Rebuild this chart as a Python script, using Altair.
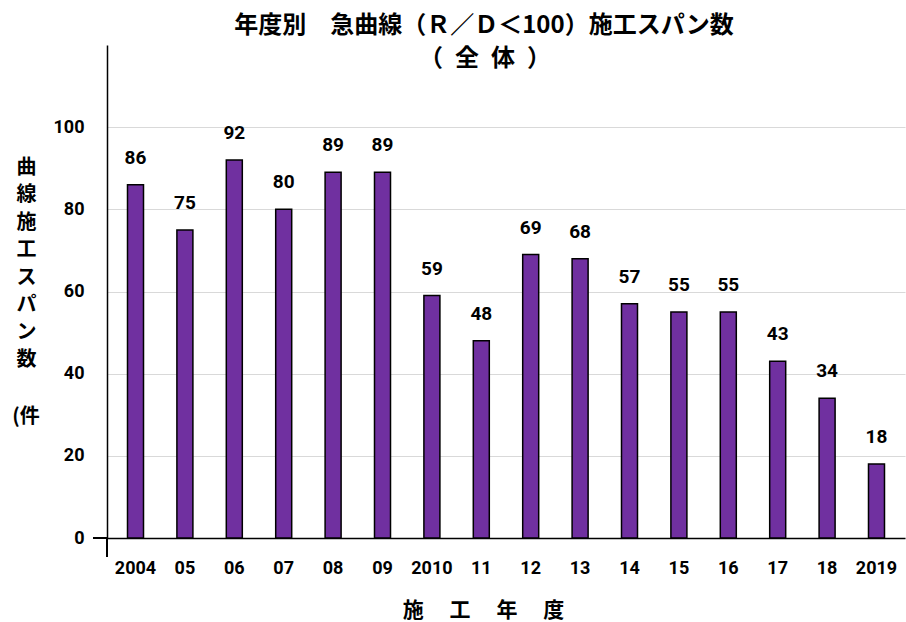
import altair as alt
import pandas as pd

years = ["2004", "05", "06", "07", "08", "09", "2010", "11", "12", "13",
         "14", "15", "16", "17", "18", "2019"]
counts = [86, 75, 92, 80, 89, 89, 59, 48, 69, 68, 57, 55, 55, 43, 34, 18]
y_ticks = [0, 20, 40, 60, 80, 100]
title_lines = ["年度別　急曲線（Ｒ／Ｄ＜100）施工スパン数", "（\u2002全\u2002体\u2002）"]
y_title = ["曲", "線", "施", "工", "ス", "パ", "ン", "数"]
y_unit = "(件"
x_title = "施　 工　 年　 度"

df = pd.DataFrame({"year": years, "count": counts})

NUM_FONT = "Roboto, sans-serif"
CJK_FONT = "Noto Sans CJK JP, sans-serif"

x_enc = alt.X(
    "year:N", sort=years,
    scale=alt.Scale(paddingInner=0.676, paddingOuter=0.415),
    axis=alt.Axis(
        title=x_title, titleFont=CJK_FONT, titleFontSize=21,
        titleFontWeight="bold", titleColor="black",
        titleX=376, titleY=72, titleBaseline="middle", titleAnchor="start",
        titleAlign="center",
        labelAngle=0, labelFont=NUM_FONT, labelFontSize=18, labelFontWeight="bold",
        labelColor="black", labelPadding=21, ticks=False,
        domainColor="black", domainWidth=1.5, grid=False,
    ),
)

y_enc = alt.Y(
    "count:Q",
    scale=alt.Scale(domain=[0, 120], nice=False),
    axis=alt.Axis(
        values=y_ticks, title=y_title,
        titleAngle=0, titleFont=CJK_FONT, titleFontSize=20, titleFontWeight="bold",
        titleColor="black", titleLineHeight=27.5, titleX=-81, titleY=122,
        titleAlign="center", titleBaseline="middle",
        labelFont=NUM_FONT, labelFontSize=18, labelFontWeight="bold",
        labelColor="black", labelPadding=23, ticks=False,
        domainColor="black", domainWidth=1.5,
        gridColor="#d9d9d9", gridWidth=1.2,
    ),
)

bars = alt.Chart(df).mark_bar(
    color="#7030A0", stroke="black", strokeWidth=1.5
).encode(x=x_enc, y=y_enc)

labels = alt.Chart(df).mark_text(
    font=NUM_FONT, fontSize=19, fontWeight="bold", color="black",
    baseline="alphabetic", dy=-21
).encode(x=alt.X("year:N", sort=years), y="count:Q", text="count:Q")

y_ext = alt.Chart(df).mark_rule(color="black", strokeWidth=1.5).encode(
    x=alt.value(0), y=alt.value(493), y2=alt.value(512)
)
x_ext = alt.Chart(df).mark_rule(color="black", strokeWidth=1.5).encode(
    x=alt.value(-14), x2=alt.value(0), y=alt.value(493)
)

t1 = alt.Chart(pd.DataFrame({"t": [title_lines[0]]})).mark_text(
    font=CJK_FONT, fontSize=24, fontWeight="bold", color="black",
    align="center", baseline="middle"
).encode(text="t:N", x=alt.value(377), y=alt.value(-19))
t2 = alt.Chart(pd.DataFrame({"t": [title_lines[1]]})).mark_text(
    font=CJK_FONT, fontSize=24, fontWeight="bold", color="black",
    align="center", baseline="middle"
).encode(text="t:N", x=alt.value(378), y=alt.value(14))
unit = alt.Chart(pd.DataFrame({"t": [y_unit]})).mark_text(
    font=CJK_FONT, fontSize=20, fontWeight="bold", color="black",
    align="center", baseline="middle"
).encode(text="t:N", x=alt.value(-81), y=alt.value(372))

chart = alt.layer(bars, labels, y_ext, x_ext, t1, t2, unit).properties(
    width=798, height=493,
).configure(
    autosize=alt.AutoSizeParams(type="none"),
    padding={"left": 107, "top": 45, "right": 1, "bottom": 84},
    background="white",
).configure_view(stroke=None)

chart.save("out.html", embed_options={"renderer": "svg", "actions": False})
